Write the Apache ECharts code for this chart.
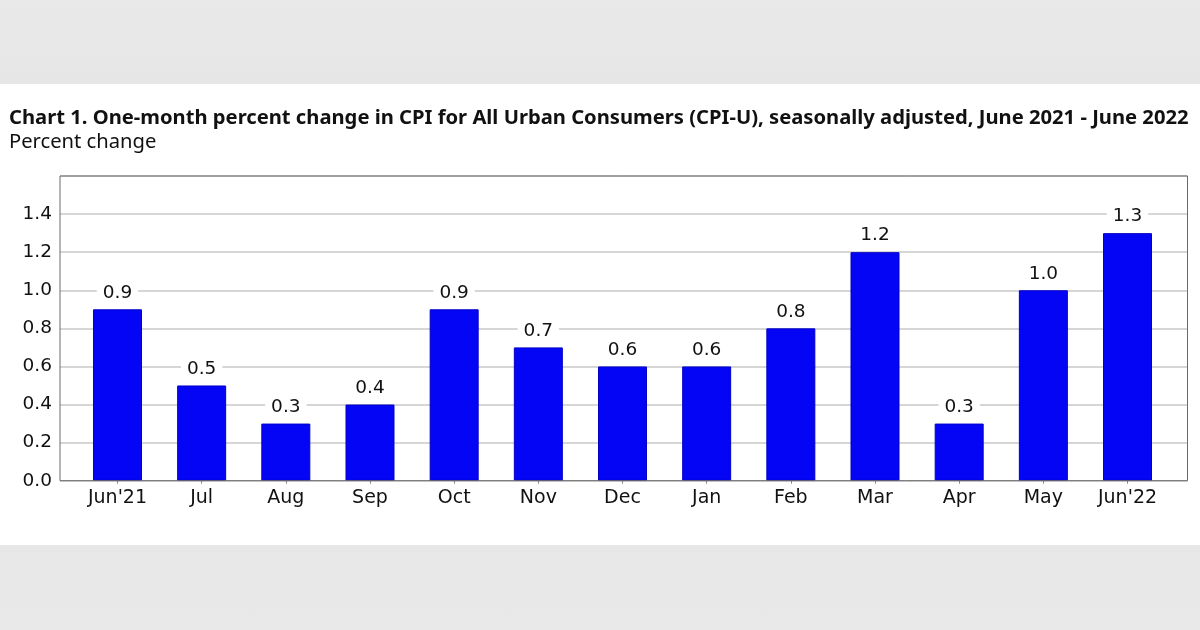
<!DOCTYPE html>
<html>
<head>
<meta charset="utf-8">
<script src="https://cdn.jsdelivr.net/npm/echarts@6/dist/echarts.min.js"></script>
<style>
html,body{margin:0;padding:0;}
body{width:1200px;height:630px;background:linear-gradient(to bottom,#e9e9e9 0px,#e6e6e6 84px,#ffffff 84px,#ffffff 545px,#e7e7e7 545px,#e9e9e9 630px);}
#chart{width:1200px;height:630px;}
</style>
</head>
<body>
<div id="chart"></div>
<script>
var categories = ["Jun'21","Jul","Aug","Sep","Oct","Nov","Dec","Jan","Feb","Mar","Apr","May","Jun'22"];
var values = [0.9,0.5,0.3,0.4,0.9,0.7,0.6,0.6,0.8,1.2,0.3,1.0,1.3];
var yTicks = [0,0.2,0.4,0.6,0.8,1.0,1.2,1.4];
var titleText = "Chart 1. One-month percent change in CPI for All Urban Consumers (CPI-U), seasonally adjusted, June 2021 - June 2022";
var subtitleText = "Percent change";

var FONT = "DejaVu Sans";
var chart = echarts.init(document.getElementById('chart'), null, {renderer:'canvas'});
chart.setOption({
  backgroundColor: 'transparent',
  animation: false,
  title: [
    {text: titleText, left: 9, top: 106, padding:0, textStyle:{fontFamily:'Noto Sans', fontWeight:'bold', fontSize:20.2, lineHeight:24, color:'#111'}},
    {text: subtitleText, left: 9, top: 130, padding:0, textStyle:{fontFamily:'Noto Sans', fontWeight:'normal', fontSize:20.2, lineHeight:24, color:'#111'}}
  ],
  grid: [
    {left: 60, right: 12.5, top: 176, bottom: 149.3, show:false},
    {left: 60, right: 12.5, top: 176, bottom: 149.3, show:true, z:10, borderColor:'#6a6a6a', borderWidth:1, backgroundColor:'transparent'},
    {left: 75.4, right: 30.4, top: 176, bottom: 149.3, show:false}
  ],
  xAxis: [
    {gridIndex:0, type:'value', show:false, min:0, max:1},
    {gridIndex:1, type:'value', show:false, min:0, max:1},
    {gridIndex:2, type:'category', data: categories, boundaryGap:true,
     axisLine:{show:false},
     axisTick:{show:true, alignWithLabel:true, length:3, lineStyle:{color:'#888'}},
     axisLabel:{fontFamily:FONT, fontSize:19, color:'#111', margin:8, interval:0}}
  ],
  yAxis: [
    {gridIndex:0, type:'value', min:0, max:1.6, interval:0.2,
     axisLine:{show:false}, axisTick:{show:false},
     axisLabel:{fontFamily:FONT, fontSize:18.5, color:'#111', margin:8,
       formatter:function(v){ return yTicks.some(function(t){return Math.abs(t-v)<1e-6;}) ? v.toFixed(1) : ''; }},
     splitLine:{show:true, lineStyle:{color:'#c8c8c8', width:1.5}}},
    {gridIndex:1, type:'value', show:false, min:0, max:1},
    {gridIndex:2, type:'value', show:false, min:0, max:1.6}
  ],
  series: [{
    type:'bar', xAxisIndex:2, yAxisIndex:2, data: values, barWidth:49,
    itemStyle:{color:'#0505f5', borderColor:'#0000c8', borderWidth:1},
    label:{show:true, position:'top', distance:7, fontFamily:FONT, fontSize:18.5, color:'#111',
      backgroundColor:'#ffffff', padding:[0,6], formatter:function(p){return p.value.toFixed(1);}}
  }]
});
</script>
</body>
</html>
